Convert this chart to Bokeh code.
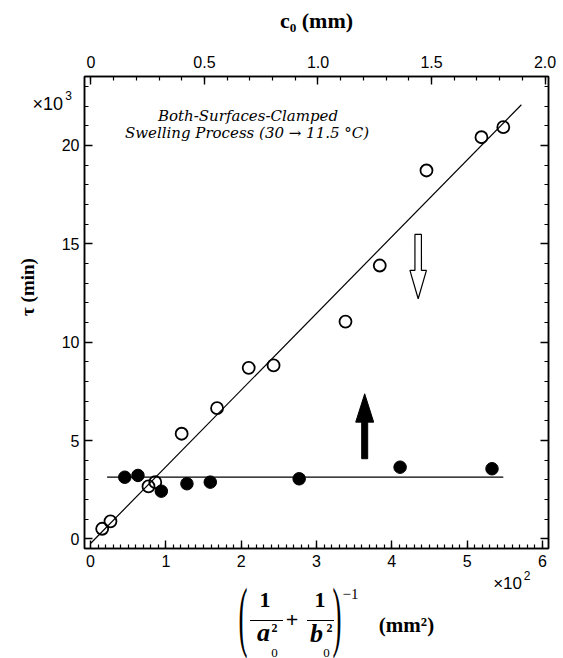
import numpy as np
from bokeh.plotting import figure
from bokeh.layouts import column
from bokeh.models import (Range1d, LinearAxis, Label, Div,
                          SingleIntervalTicker, CustomJSTickFormatter)
from bokeh.embed import file_html
from bokeh.resources import INLINE

# ---------------- data (x in 10^2 mm^2, y in 10^3 min) ----------------
open_x = [0.155, 0.265, 0.77, 0.86, 1.21, 1.68, 2.10, 2.43, 3.385, 3.84, 4.46, 5.19, 5.48]
open_y = [0.52, 0.90, 2.67, 2.89, 5.35, 6.65, 8.70, 8.82, 11.05, 13.90, 18.73, 20.42, 20.93]
filled_x = [0.455, 0.63, 0.94, 1.28, 1.59, 2.77, 4.11, 5.33]
filled_y = [3.14, 3.23, 2.43, 2.81, 2.89, 3.06, 3.65, 3.57]
fit_open_x = [0.0, 5.72]
fit_open_y = [-0.23, 22.07]
fit_filled_x = [0.22, 5.48]
fit_filled_y = [3.14, 3.14]
c0_ticks = [0, 0.5, 1.0, 1.5, 2.0]
c0_tick_labels = ["0", "0.5", "1.0", "1.5", "2.0"]
# arrows: x position, tail y, head-base y, tip y
arrow_up = dict(x=3.64, y0=4.08, yh=5.94, y1=7.38)
arrow_down = dict(x=4.35, y0=15.48, yh=13.65, y1=12.21)

# ---------------- layout ----------------
W, H = 563, 658
BL, BR, BT, BB = 84, 15, 76, 110
FX0, FX1 = BL, W - BR
FY0, FY1 = BT, H - BB

xr = Range1d(-0.0797, 6.080)
yr = Range1d(-0.483, 23.507)
c0r = Range1d(-0.0286, 2.0154)

p = figure(width=W, height=H, x_range=xr, y_range=yr,
           output_backend="svg", toolbar_location=None,
           min_border_left=BL, min_border_right=BR,
           min_border_top=BT, min_border_bottom=BB)
p.extra_x_ranges = {"c0": c0r}
p.add_layout(LinearAxis(x_range_name="c0"), "above")
p.add_layout(LinearAxis(), "right")
p.grid.visible = False
p.outline_line_color = "black"
p.outline_line_width = 1.5
p.background_fill_color = "white"
p.border_fill_color = None

TICKFONT = "Liberation Sans"
for ax in p.axis:
    ax.axis_label = None
    ax.axis_line_color = "black"
    ax.axis_line_width = 1.5
    ax.major_tick_in = 8
    ax.major_tick_out = 0
    ax.minor_tick_in = 4
    ax.minor_tick_out = 0
    ax.major_tick_line_width = 1.4
    ax.minor_tick_line_width = 1.2
    ax.major_tick_line_color = "black"
    ax.minor_tick_line_color = "black"
    ax.major_label_text_font = TICKFONT
    ax.major_label_text_font_size = "16px"
    ax.major_label_text_color = "black"

p.below[0].ticker = SingleIntervalTicker(interval=1, num_minor_ticks=10)
p.below[0].major_label_standoff = 6
p.left[0].ticker = SingleIntervalTicker(interval=5, num_minor_ticks=5)
p.left[0].major_label_standoff = 5
p.right[0].ticker = SingleIntervalTicker(interval=5, num_minor_ticks=5)
p.right[0].major_label_text_font_size = "10px"
p.right[0].formatter = CustomJSTickFormatter(code="return ''")
p.right[0].major_label_standoff = 0
top = p.above[0]
top.ticker = SingleIntervalTicker(interval=0.5, num_minor_ticks=5)
top.major_label_overrides = {t: s for t, s in zip(c0_ticks, c0_tick_labels)}
top.major_label_standoff = 9
top.axis_label = "c\u2080 (mm)"
top.axis_label_text_font = "Liberation Serif"
top.axis_label_text_font_style = "bold"
top.axis_label_text_font_size = "22px"
top.axis_label_text_color = "black"
top.axis_label_standoff = 20

# ---------------- marks ----------------
p.line(fit_open_x, fit_open_y, line_color="black", line_width=1.2)
p.line(fit_filled_x, fit_filled_y, line_color="black", line_width=1.2)
p.scatter(open_x, open_y, marker="circle", size=12, fill_color=None,
          line_color="black", line_width=1.8)
p.scatter(filled_x, filled_y, marker="circle", size=12.5, fill_color="black",
          line_color="black")

def arrow_poly(a, shaft_px=6, head_px=17):
    kx = (xr.end - xr.start) / (FX1 - FX0)
    hs = shaft_px * kx / 2
    hh = head_px * kx / 2
    x = a["x"]
    xs = [x - hs, x - hs, x - hh, x, x + hh, x + hs, x + hs]
    ys = [a["y0"], a["yh"], a["yh"], a["y1"], a["yh"], a["yh"], a["y0"]]
    return xs, ys

xs, ys = arrow_poly(arrow_up, 6, 18)
p.patch(xs, ys, fill_color="black", line_color="black", line_width=1)
xs, ys = arrow_poly(arrow_down, 6.5, 16.5)
p.patch(xs, ys, fill_color="white", line_color="black", line_width=1.2)

# ---------------- in-frame text ----------------
def dx(px):
    return xr.start + (px - FX0) / (FX1 - FX0) * (xr.end - xr.start)

def dy(py):
    return yr.start + (FY1 - py) / (FY1 - FY0) * (yr.end - yr.start)

for txt, cx, cy in [("Both-Surfaces-Clamped", 247.5, 115),
                    ("Swelling Process (30 \u2192 11.5 \u00b0C)", 246.5, 132)]:
    p.add_layout(Label(x=dx(cx), y=dy(cy), text=txt, text_font="DejaVu Serif",
                       text_font_size="15px", text_font_style="italic",
                       text_align="center", text_baseline="middle",
                       text_color="black"))

# ---------------- outside texts (HTML overlay) ----------------
SERIF = "Liberation Serif"

def span(text, x, y, size, font=SERIF, weight="normal", style="normal",
         ink=0.0, anchor="center", extra=""):
    top_ = y - ink * size
    tx = {"center": "-50%", "right": "-100%", "left": "0"}[anchor]
    return (f'<span style="position:absolute;left:{x}px;top:{top_:.1f}px;'
            f"font-family:'{font}';font-size:{size}px;font-weight:{weight};"
            f'font-style:{style};line-height:1;white-space:nowrap;color:black;'
            f'transform:translate({tx},-50%){extra};">{text}</span>')

def bar(x0, x1, y, w=1.4):
    return (f'<div style="position:absolute;left:{x0}px;top:{y - w / 2:.1f}px;'
            f'width:{x1 - x0}px;height:0;border-top:{w}px solid black;"></div>')

PAREN = " scale(0.45,1.3)"
parts = [
    # left axis title
    span("&tau; (min)", 26.5, 287, 19, weight="bold", extra=" rotate(-90deg)"),
    # multipliers
    span("&times;10", 63, 104, 18, font=TICKFONT, anchor="right"),
    span("3", 68.5, 96, 12, font=TICKFONT),
    span("&times;10", 522, 583, 17, font=TICKFONT, anchor="right"),
    span("2", 527, 575.5, 12, font=TICKFONT),
    # bottom title (1/a0^2 + 1/b0^2)^-1 (mm^2)
    span("(", 243, 622, 60, ink=0.1027, extra=PAREN),
    span("1", 265, 599.5, 22, weight="bold"),
    bar(250, 283, 621),
    span("a", 263.5, 636, 26, weight="bold", style="italic", ink=0.1075),
    span("2", 274.5, 628, 12, weight="bold"),
    span("0", 274.5, 651.5, 13),
    span("+", 292, 622, 22, weight="bold", ink=0.0875),
    span("1", 320, 599.5, 22, weight="bold"),
    bar(306.5, 333.5, 621),
    span("b", 316.5, 634, 26, weight="bold", style="italic"),
    span("2", 329.5, 628, 12, weight="bold"),
    span("0", 326.5, 651.5, 13),
    span(")", 337, 622, 60, ink=0.1027, extra=PAREN),
    span("&minus;1", 350.5, 593.5, 15),
    span("(mm&sup2;)", 406.5, 626.5, 21, weight="bold", ink=0.079),
]
html = (f'<div style="position:relative;width:{W}px;height:{H}px;">'
        + "".join(parts) + "</div>")
overlay = Div(text=html, width=W, height=H, margin=(-H, 0, 0, 0),
              styles={"position": "relative", "z-index": "10",
                      "pointer-events": "none"})

layout = column(p, overlay, spacing=0)
open("out.html", "w").write(file_html(layout, INLINE))
